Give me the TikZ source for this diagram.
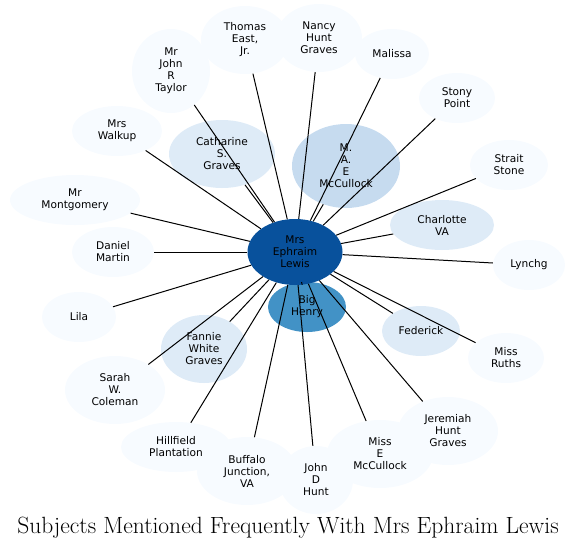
\documentclass[tikz,border=0pt]{standalone}
\usepackage{fontspec}
\newfontfamily\lab{DejaVu Sans}
\usetikzlibrary{shapes.geometric}
\definecolor{cmain}{HTML}{08519C}
\definecolor{cbig}{HTML}{4292C6}
\definecolor{cmid}{HTML}{C6DBEF}
\definecolor{clow}{HTML}{DEEBF7}
\definecolor{cmin}{HTML}{F7FBFF}
\tikzset{
  bub/.style={ellipse, inner sep=0pt, align=center, draw=none,
    font=\lab\fontsize{10.6}{12}\selectfont, text=black},
  conn/.style={draw=black, line width=1pt},
}
\newcommand{\bnode}[7]{\node[bub, fill=#1, minimum width=#5pt, minimum height=#6pt] (#2) at (#3,#4) {#7};}
\begin{document}
\begin{tikzpicture}[x=1pt,y=-1pt]
\useasboundingbox (0,0) rectangle (577,550);
% outer light nodes
\bnode{cmin}{thomas}{245}{40}{88}{68}{Thomas\\East,\\Jr.}
\bnode{cmin}{nancy}{319}{38}{86}{68}{Nancy\\Hunt\\Graves}
\bnode{cmin}{malissa}{392}{54}{74}{50}{Malissa}
\bnode{cmin}{taylor}{171}{71}{78}{84}{Mr\\John\\R\\Taylor}
\bnode{cmin}{stony}{457}{98}{76}{50}{Stony\\Point}
\bnode{cmin}{walkup}{117}{131}{90}{50}{Mrs\\Walkup}
\bnode{cmin}{strait}{509}{165}{78}{50}{Strait\\Stone}
\bnode{cmin}{montg}{75}{200}{130}{50}{Mr\\Montgomery}
\bnode{cmin}{daniel}{113}{252}{82}{50}{Daniel\\Martin}
\bnode{cmin}{lynchg}{529}{265}{72}{50}{Lynchg}
\bnode{cmin}{lila}{79}{317}{74}{50}{Lila}
\bnode{cmin}{ruths}{506}{358}{76}{50}{Miss\\Ruths}
\bnode{cmin}{sarah}{115}{390}{100}{68}{Sarah\\W.\\Coleman}
\bnode{cmin}{jeremiah}{448}{431}{100}{68}{Jeremiah\\Hunt\\Graves}
\bnode{cmin}{hillfield}{176}{447}{110}{50}{Hillfield\\Plantation}
\bnode{cmin}{buffalo}{247}{471}{100}{68}{Buffalo\\Junction,\\VA}
\bnode{cmin}{misse}{380}{454}{106}{68}{Miss\\E\\McCullock}
\bnode{cmin}{john}{316}{480}{74}{68}{John\\D\\Hunt}
% mid nodes
\bnode{clow}{catharine}{222}{154}{106}{68}{Catharine\\S.\\Graves}
\bnode{clow}{charlotte}{442}{225}{104}{50}{Charlotte\\VA}
\bnode{clow}{federick}{421}{331}{78}{50}{Federick}
\bnode{clow}{fannie}{204}{349}{86}{68}{Fannie\\White\\Graves}
\bnode{cmid}{mae}{346}{166}{108}{84}{M.\\A.\\E\\McCullock}
\bnode{cbig}{henry}{307}{307}{78}{50}{Big\\Henry}
\bnode{cmain}{lewis}{295}{252}{95}{66}{Mrs\\Ephraim\\Lewis}
% connectors
\foreach \t in {thomas,nancy,malissa,taylor,stony,walkup,strait,montg,daniel,lynchg,lila,ruths,sarah,jeremiah,hillfield,buffalo,misse,john,catharine,charlotte,federick,fannie,mae,henry}
  \draw[conn] (lewis) -- (\t);
\node[font=\fontsize{23.5}{27}\selectfont, inner sep=0pt] (title) at (288,528) {Subjects Mentioned Frequently With Mrs Ephraim Lewis};
\end{tikzpicture}
\end{document}
